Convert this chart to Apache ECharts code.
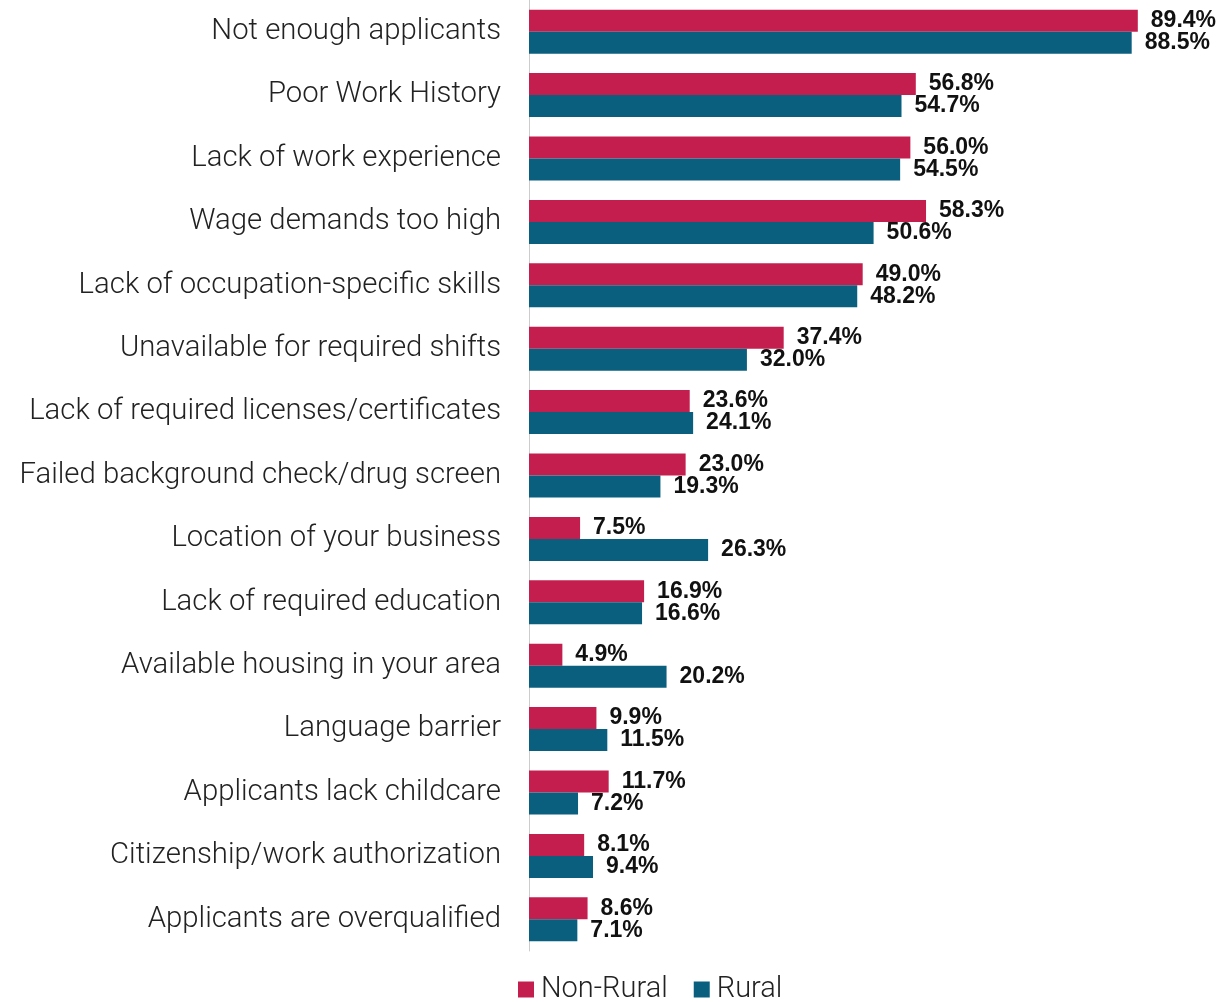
<!DOCTYPE html>
<html>
<head>
<meta charset="utf-8">
<script src="https://cdn.jsdelivr.net/npm/echarts@6/dist/echarts.min.js"></script>
<style>
  html, body { margin: 0; padding: 0; background: #fff; }
  #chart { width: 1223px; height: 1002px; }
</style>
</head>
<body>
<div id="chart"></div>
<script>
// categories top to bottom
var categories = [
  'Not enough applicants',
  'Poor Work History',
  'Lack of work experience',
  'Wage demands too high',
  'Lack of occupation-specific skills',
  'Unavailable for required shifts',
  'Lack of required licenses/certificates',
  'Failed background check/drug screen',
  'Location of your business',
  'Lack of required education',
  'Available housing in your area',
  'Language barrier',
  'Applicants lack childcare',
  'Citizenship/work authorization',
  'Applicants are overqualified'
];
var nonRural = [89.4, 56.8, 56.0, 58.3, 49.0, 37.4, 23.6, 23.0, 7.5, 16.9, 4.9, 9.9, 11.7, 8.1, 8.6];
var rural = [88.5, 54.7, 54.5, 50.6, 48.2, 32.0, 24.1, 19.3, 26.3, 16.6, 20.2, 11.5, 7.2, 9.4, 7.1];

var chart = echarts.init(document.getElementById('chart'));

var labelStyle = {
  show: true,
  position: 'right',
  distance: 13,
  formatter: function (p) { return p.value.toFixed(1) + '%'; },
  fontFamily: 'Liberation Sans, Arial, sans-serif',
  fontWeight: 'bold',
  fontSize: 23,
  color: '#111'
};

var option = {
  backgroundColor: '#fff',
  animation: false,
  grid: { left: 529, right: 13, top: -6, bottom: 51, containLabel: false },
  legend: {
    bottom: -7,
    left: 513,
    itemWidth: 16,
    itemHeight: 16,
    itemGap: 26,
    icon: 'rect',
    textStyle: { fontFamily: 'Roboto', fontWeight: 300, fontSize: 29, color: '#222', padding: [0, 0, 0, 2] },
    data: ['Non-Rural', 'Rural']
  },
  xAxis: {
    type: 'value',
    min: 0,
    max: 100,
    show: false
  },
  yAxis: {
    type: 'category',
    inverse: true,
    data: categories,
    axisLine: { show: true, lineStyle: { color: '#ccc', width: 1 } },
    axisTick: { show: false },
    axisLabel: {
      margin: 28,
      fontFamily: 'Roboto',
      fontWeight: 300,
      fontSize: 29.3,
      color: '#222'
    }
  },
  series: [
    {
      name: 'Non-Rural',
      type: 'bar',
      data: nonRural,
      barWidth: 22,
      barGap: '0%',
      itemStyle: { color: '#C41E4F' },
      label: labelStyle
    },
    {
      name: 'Rural',
      type: 'bar',
      data: rural,
      barWidth: 22,
      barGap: '0%',
      itemStyle: { color: '#0B5F7E' },
      label: labelStyle
    }
  ]
};

chart.setOption(option);
</script>
</body>
</html>
